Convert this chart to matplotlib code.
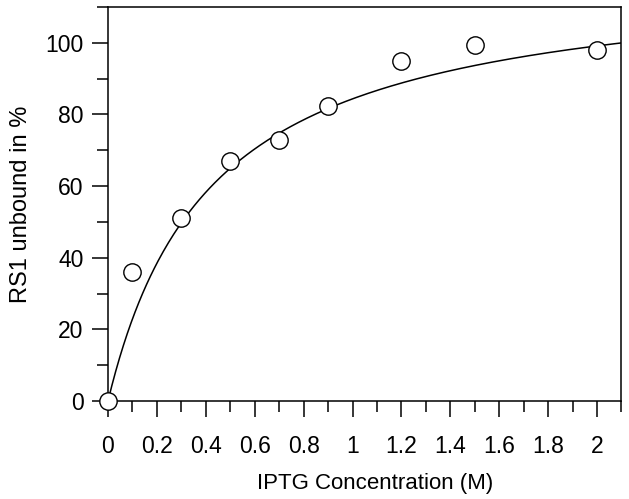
import numpy as np
import matplotlib.pyplot as plt
from matplotlib.ticker import MultipleLocator, FormatStrFormatter

plt.rcParams['font.family'] = ['Liberation Sans', 'DejaVu Sans']

# measured points
iptg = [0.0, 0.1, 0.3, 0.5, 0.7, 0.9, 1.2, 1.5, 2.0]
unbound = [0.0, 36.0, 51.1, 67.0, 72.9, 82.4, 95.0, 99.4, 98.0]

# hyperbolic fit: Bmax * x / (Kd + x)
bmax = 120.2
kd = 0.425

fig = plt.figure(figsize=(6.29, 4.99), dpi=100)
ax = fig.add_axes([0.1717, 0.1964, 0.8163, 0.7896])

xfit = np.linspace(0, 2.1, 400)
ax.plot(xfit, bmax * xfit / (kd + xfit), color='black', lw=1.1, zorder=2)
ax.plot(iptg, unbound, 'o', ms=12.5, mfc='white', mec='black', mew=1.0,
        clip_on=False, zorder=5)

ax.set_xlim(0, 2.1)
ax.set_ylim(0, 110)
ax.xaxis.set_major_locator(MultipleLocator(0.2))
ax.xaxis.set_minor_locator(MultipleLocator(0.1))
ax.yaxis.set_major_locator(MultipleLocator(20))
ax.yaxis.set_minor_locator(MultipleLocator(10))
ax.xaxis.set_major_formatter(FormatStrFormatter('%g'))

for s in ax.spines.values():
    s.set_linewidth(1.1)
ax.tick_params(which='major', length=11.5, width=1.1, labelsize=16.5)
ax.tick_params(which='minor', length=8, width=1.1)
ax.tick_params(axis='x', which='major', pad=13)
ax.tick_params(axis='y', which='major', pad=6)

ax.set_xlabel('IPTG Concentration (M)', fontsize=16)
ax.xaxis.set_label_coords(0.52, -0.183)
ax.set_ylabel('RS1 unbound in %', fontsize=17, labelpad=10)

fig.savefig('out.png', dpi=100)
